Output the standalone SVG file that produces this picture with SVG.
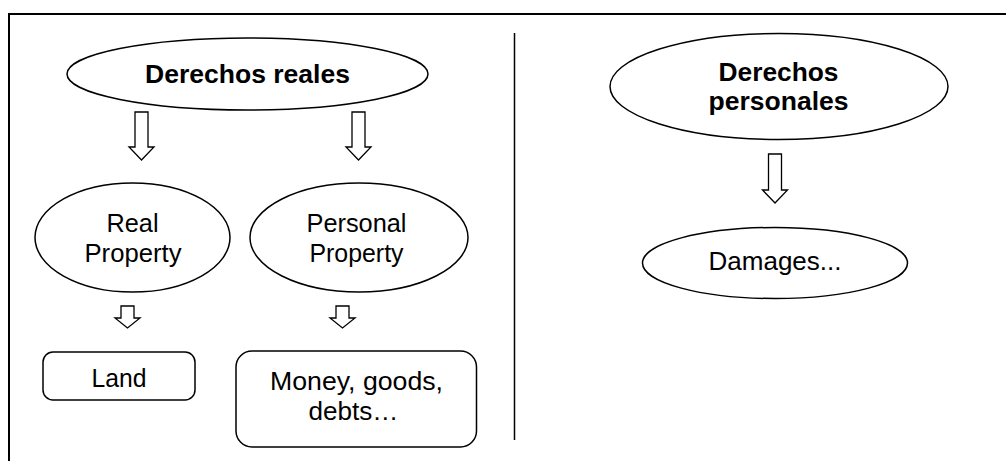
<svg xmlns="http://www.w3.org/2000/svg" width="1006" height="461" viewBox="0 0 1006 461">
<style>
.sh{fill:#fff;stroke:#000;stroke-width:1.5}
.ar{fill:#fff;stroke:#000;stroke-width:1.3;stroke-linejoin:miter}
.t{font-family:"Liberation Sans",Arial,sans-serif;font-size:25px;fill:#000;text-anchor:middle}
.b{font-weight:bold}
</style>
<rect x="0" y="0" width="1006" height="461" fill="#fff"/>
<rect x="9" y="14" width="1010" height="460" fill="none" stroke="#000" stroke-width="2"/>
<line x1="514.5" y1="33" x2="514.5" y2="440" stroke="#000" stroke-width="1.5"/>
<g id="connectors">
<path class="ar" d="M135,112 H148 V147 H154 L141.5,160 L129,147 H135 Z"/>
<path class="ar" d="M352,112 H365 V147 H371 L358.5,160 L346,147 H352 Z"/>
<path class="ar" d="M121,306 H134 V318 H140 L127.5,328 L115,318 H121 Z"/>
<path class="ar" d="M336,306 H349 V318 H355 L342.5,328 L330,318 H336 Z"/>
<path class="ar" d="M768.5,154 H781.5 V190 H787.5 L775,203 L762.5,190 H768.5 Z"/>
</g>
<g id="derechos-reales">
<ellipse class="sh" cx="247.5" cy="74" rx="180.5" ry="36"/>
<text class="t b" x="247.5" y="83" textLength="205" lengthAdjust="spacingAndGlyphs">Derechos reales</text>
</g>
<g id="real-property">
<ellipse class="sh" cx="132.5" cy="237.5" rx="97.5" ry="54.5"/>
<text class="t" x="132.5" y="231.5" textLength="52" lengthAdjust="spacingAndGlyphs">Real</text>
<text class="t" x="133" y="261.5" textLength="97" lengthAdjust="spacingAndGlyphs">Property</text>
</g>
<g id="personal-property">
<ellipse class="sh" cx="359" cy="237.5" rx="109" ry="54.5"/>
<text class="t" x="356.5" y="231.5" textLength="100" lengthAdjust="spacingAndGlyphs">Personal</text>
<text class="t" x="356.5" y="261.5" textLength="94" lengthAdjust="spacingAndGlyphs">Property</text>
</g>
<g id="land">
<rect class="sh" x="43" y="352" width="152" height="48" rx="10"/>
<text class="t" x="119" y="387" textLength="55" lengthAdjust="spacingAndGlyphs">Land</text>
</g>
<g id="money">
<rect class="sh" x="236" y="351" width="240.5" height="96" rx="16"/>
<text class="t" x="356.5" y="390" textLength="173" lengthAdjust="spacingAndGlyphs">Money, goods,</text>
<text class="t" x="353.5" y="420" textLength="90" lengthAdjust="spacingAndGlyphs">debts…</text>
</g>
<g id="derechos-personales">
<ellipse class="sh" cx="779" cy="86.5" rx="169" ry="53"/>
<text class="t b" x="778.5" y="81" textLength="120" lengthAdjust="spacingAndGlyphs">Derechos</text>
<text class="t b" x="778.5" y="110" textLength="140" lengthAdjust="spacingAndGlyphs">personales</text>
</g>
<g id="damages">
<ellipse class="sh" cx="775" cy="263" rx="132.5" ry="35.5"/>
<text class="t" x="775" y="269.5" textLength="133" lengthAdjust="spacingAndGlyphs">Damages...</text>
</g>
</svg>
